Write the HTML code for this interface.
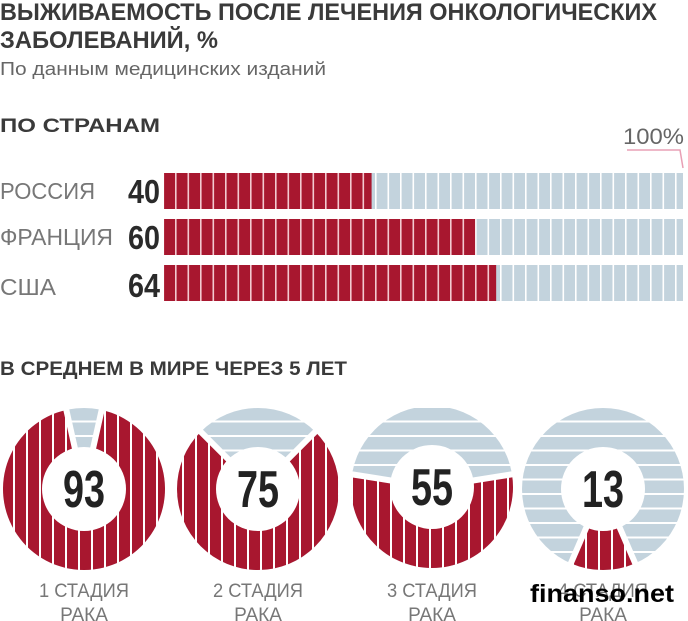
<!DOCTYPE html>
<html><head><meta charset="utf-8"><style>
html,body{margin:0;padding:0;background:#fff;width:688px;height:621px;overflow:hidden}
svg{display:block}
text{font-family:"Liberation Sans",sans-serif}
</style></head><body>
<svg id="s" width="688" height="621" viewBox="0 0 688 621" xmlns="http://www.w3.org/2000/svg">
<defs>
<pattern id="rv" width="12.5" height="10" patternUnits="userSpaceOnUse">
<rect width="12.5" height="10" fill="#a8172f"/><rect x="0" width="1.6" height="10" fill="#f3c9d0"/></pattern>
<pattern id="bv" width="12.5" height="10" patternUnits="userSpaceOnUse">
<rect width="12.5" height="10" fill="#c3d3dd"/><rect x="0" width="1.6" height="10" fill="#fff"/></pattern>
<pattern id="rc" width="13" height="10" patternUnits="userSpaceOnUse">
<rect width="13" height="10" fill="#a8172f"/><rect x="0" width="2" height="10" fill="#fff"/></pattern>
<pattern id="bh" width="10" height="14.5" patternUnits="userSpaceOnUse">
<rect width="10" height="14.5" fill="#c3d3dd"/><rect y="0" width="10" height="2" fill="#fff"/></pattern>
</defs>
<text x="0" y="20" font-size="24" font-weight="bold" fill="#3a3a3a" textLength="657" lengthAdjust="spacingAndGlyphs">ВЫЖИВАЕМОСТЬ ПОСЛЕ ЛЕЧЕНИЯ ОНКОЛОГИЧЕСКИХ</text>
<text x="0" y="48" font-size="24" font-weight="bold" fill="#3a3a3a" textLength="218" lengthAdjust="spacingAndGlyphs">ЗАБОЛЕВАНИЙ, %</text>
<text x="0" y="75" font-size="18" fill="#666" textLength="326" lengthAdjust="spacingAndGlyphs">По данным медицинских изданий</text>
<text x="0" y="132" font-size="19" font-weight="bold" fill="#3a3a3a" textLength="160" lengthAdjust="spacingAndGlyphs">ПО СТРАНАМ</text>
<text x="623" y="144" font-size="22" fill="#666" textLength="61" lengthAdjust="spacingAndGlyphs">100%</text>
<polyline points="627,150 680,150 683,168" fill="none" stroke="#e8a0b5" stroke-width="1.5"/>
<g id="bars"></g>
<text x="0" y="199" font-size="23" fill="#777" textLength="95" lengthAdjust="spacingAndGlyphs">РОССИЯ</text>
<text x="0" y="245" font-size="23" fill="#777" textLength="113" lengthAdjust="spacingAndGlyphs">ФРАНЦИЯ</text>
<text x="0" y="295" font-size="23" fill="#777" textLength="56" lengthAdjust="spacingAndGlyphs">США</text>
<text x="160" y="203" font-size="33" font-weight="bold" fill="#2a2a2a" text-anchor="end" textLength="32" lengthAdjust="spacingAndGlyphs">40</text>
<text x="160" y="249" font-size="33" font-weight="bold" fill="#2a2a2a" text-anchor="end" textLength="32" lengthAdjust="spacingAndGlyphs">60</text>
<text x="160" y="297" font-size="33" font-weight="bold" fill="#2a2a2a" text-anchor="end" textLength="32" lengthAdjust="spacingAndGlyphs">64</text>
<text x="0" y="375" font-size="19" font-weight="bold" fill="#3a3a3a" textLength="347" lengthAdjust="spacingAndGlyphs">В СРЕДНЕМ В МИРЕ ЧЕРЕЗ 5 ЛЕТ</text>
<g id="pies"></g>
<g font-size="19" fill="#777" text-anchor="middle">
<text x="84" y="597" textLength="90" lengthAdjust="spacingAndGlyphs">1 СТАДИЯ</text>
<text x="84" y="621">РАКА</text>
<text x="258" y="597" textLength="90" lengthAdjust="spacingAndGlyphs">2 СТАДИЯ</text>
<text x="258" y="621">РАКА</text>
<text x="432" y="597" textLength="90" lengthAdjust="spacingAndGlyphs">3 СТАДИЯ</text>
<text x="432" y="621">РАКА</text>
<text x="603" y="597" textLength="90" lengthAdjust="spacingAndGlyphs">4 СТАДИЯ</text>
<text x="603" y="621">РАКА</text>
</g>
<text x="530" y="602" font-size="25" font-weight="bold" fill="#000" textLength="144" lengthAdjust="spacingAndGlyphs">finanso.net</text>
</svg>
<script>
var NS="http://www.w3.org/2000/svg";
function el(t,a,p){var e=document.createElementNS(NS,t);for(var k in a)e.setAttribute(k,a[k]);p.appendChild(e);return e;}
var bars=document.getElementById('bars');
[[173,40],[219,60],[265,64]].forEach(function(b){
 var x0=164,W=519,h=36;
 el('rect',{x:x0,y:b[0],width:W,height:h,fill:'url(#bv)'},bars);
 el('rect',{x:x0,y:b[0],width:W*b[1]/100,height:h,fill:'url(#rv)'},bars);
});
var pies=document.getElementById('pies');
[[84,489,93],[258,489,75],[432,487,55],[603,489,13]].forEach(function(c){
 var cx=c[0],cy=c[1],p=c[2]/100,R=81,r=42;
 el('circle',{cx:cx,cy:cy,r:R,fill:'url(#bh)'},pies);
 var h=p*Math.PI;
 var x1=cx-R*Math.sin(h),y1=cy+R*Math.cos(h),x2=cx+R*Math.sin(h),y2=y1;
 var large=p>0.5?1:0;
 el('path',{d:'M'+cx+','+cy+' L'+x2+','+y2+' A'+R+','+R+' 0 '+large+' 1 '+x1+','+y1+' Z',fill:'url(#rc)'},pies);
 el('line',{x1:cx,y1:cy,x2:cx+(R+3)*Math.sin(h),y2:cy+(R+3)*Math.cos(h),stroke:'#fff','stroke-width':6},pies);
 el('line',{x1:cx,y1:cy,x2:cx-(R+3)*Math.sin(h),y2:cy+(R+3)*Math.cos(h),stroke:'#fff','stroke-width':6},pies);
 el('circle',{cx:cx,cy:cy,r:r,fill:'#fff'},pies);
 var t=el('text',{x:cx,y:cy+18,'font-size':52,'font-weight':'bold',fill:'#222','text-anchor':'middle',textLength:42,lengthAdjust:'spacingAndGlyphs'},pies);
 t.textContent=c[2];
});
</script>
</body></html>
